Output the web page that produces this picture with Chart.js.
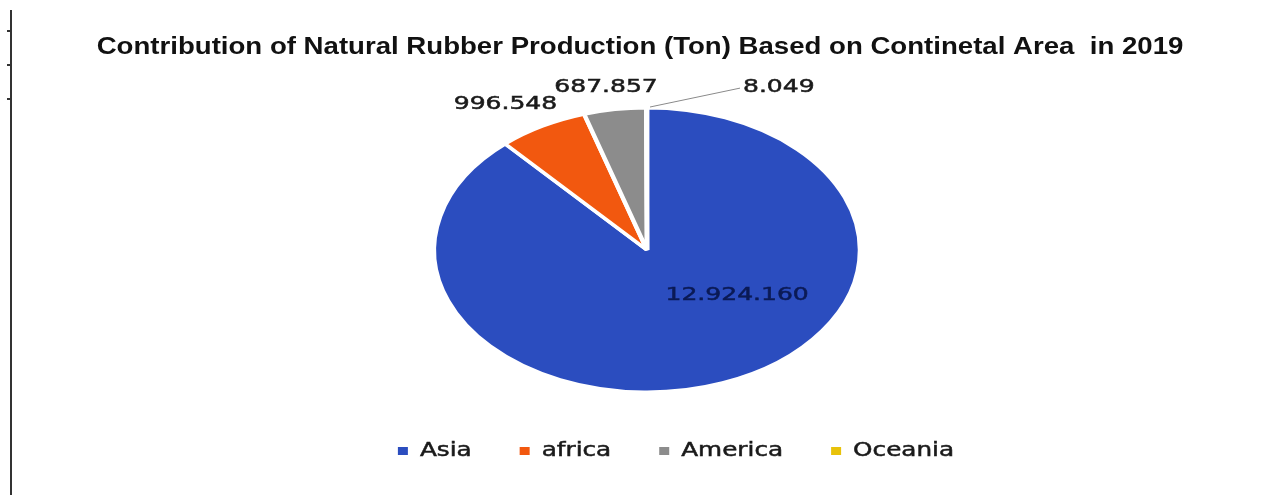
<html>
<head>
	<meta charset="utf-8">
	<title>Natural Rubber Production 2019</title>
	<script src="https://cdn.jsdelivr.net/npm/chart.js@4"></script>
	<style>
		body { margin: 0; background: #fff; }
		#wrap { position: relative; width: 1283px; height: 495px; }
		#bord { position: absolute; left: 10px; top: 10px; width: 2px; height: 485px; background: #333; }
		.tick { position: absolute; left: 7px; width: 4px; height: 2px; background: #333; }
	</style>
</head>
<body>
	<div id="wrap">
		<div id="bord"></div>
		<div class="tick" style="top:30px"></div>
		<div class="tick" style="top:64px"></div>
		<div class="tick" style="top:98px"></div>
		<canvas id="myChart"></canvas>
	</div>

	<script>

		// donnees du graphique
		var titre = 'Contribution of Natural Rubber Production (Ton) Based on Continetal Area  in 2019';
		var continents = ['Asia', 'africa', 'America', 'Oceania'];
		var production = [12924160, 996548, 687857, 8049];
		var valueText = ['12.924.160', '996.548', '687.857', '8.049'];

		var couleurs = ['#2b4dbf', '#f2580f', '#8c8c8c', '#e8c20a'];

		// etirement horizontal (l'image d'origine est ovale / etiree)
		var SX = 1.5;      // camembert
		var SXT = 1.39;    // etiquettes des valeurs
		var SXL = 1.3;     // legende
		var SXTITRE = 1.2; // titre

		// position des etiquettes : angle (degres) et rayon relatif
		var labelAngle = [37, 237, 260.5, 270];
		var labelRayon = [0.53, 1.22, 1.165, 1.0];

		// texte un peu plus epais, comme l'image d'origine
		function texteEpais(ctx, txt, couleur) {
			ctx.fillStyle = couleur;
			ctx.strokeStyle = couleur;
			ctx.lineWidth = 0.5;
			ctx.fillText(txt, 0, 0);
			ctx.strokeText(txt, 0, 0);
		}

		var ovale = {
			id: 'ovale',
			beforeDatasetsDraw: function(chart) {
				var a = chart.chartArea;
				var cx = (a.left + a.right) / 2;
				var ctx = chart.ctx;
				ctx.save();
				ctx.translate(cx, 0);
				ctx.scale(SX, 1);
				ctx.translate(-cx, 0);
			},
			afterDatasetsDraw: function(chart) {
				var ctx = chart.ctx;
				ctx.restore();

				var meta = chart.getDatasetMeta(0);
				ctx.save();
				ctx.font = '18px "DejaVu Sans"';
				ctx.textBaseline = 'middle';
				for (var i = 0; i < meta.data.length; i++) {
					var arc = meta.data[i];
					var ang = labelAngle[i] * Math.PI / 180;
					var r = arc.outerRadius * labelRayon[i];
					var x = arc.x + SX * r * Math.cos(ang);
					var y = arc.y + r * Math.sin(ang);
					if (i == 3) {
						// trait vers l'etiquette Oceania
						var x2 = arc.x + SX * 62;
						var y2 = arc.y - arc.outerRadius * 1.14;
						ctx.strokeStyle = '#8a8a8a';
						ctx.lineWidth = 1;
						ctx.beginPath();
						ctx.moveTo(x + 3, y - 1);
						ctx.lineTo(x2, y2);
						ctx.stroke();
						x = x2 + 3 + SXT * ctx.measureText(valueText[i]).width / 2;
						y = y2 - 1;
					}
					ctx.save();
					ctx.translate(x, y);
					ctx.scale(SXT, 1);
					ctx.textAlign = 'center';
					texteEpais(ctx, valueText[i], (i == 0) ? '#0b1a55' : '#1a1a1a');
					ctx.restore();
				}
				ctx.restore();
			},
			afterDraw: function(chart) {
				var ctx = chart.ctx;

				// titre
				ctx.save();
				ctx.font = 'bold 23px "Liberation Sans"';
				ctx.textBaseline = 'middle';
				ctx.textAlign = 'center';
				ctx.translate(640, 48);
				ctx.scale(SXTITRE, 1);
				ctx.fillStyle = '#111';
				ctx.fillText(titre, 0, 0);
				ctx.restore();

				// legende en bas
				ctx.save();
				ctx.font = '19px "DejaVu Sans"';
				ctx.textBaseline = 'middle';
				var boxW = 10, boxH = 8, gapTxt = 12, gapItem = 48;
				var largeurs = [];
				var total = 0;
				for (var i = 0; i < continents.length; i++) {
					var w = boxW + gapTxt + SXL * ctx.measureText(continents[i]).width;
					largeurs.push(w);
					total += w;
				}
				total += gapItem * (continents.length - 1);
				var x = 676 - total / 2;
				var y = 451;
				for (var i = 0; i < continents.length; i++) {
					ctx.fillStyle = couleurs[i];
					ctx.fillRect(x, y - boxH / 2, boxW, boxH);
					ctx.save();
					ctx.translate(x + boxW + gapTxt, y);
					ctx.scale(SXL, 1);
					ctx.textAlign = 'left';
					texteEpais(ctx, continents[i], '#1a1a1a');
					ctx.restore();
					x += largeurs[i] + gapItem;
				}
				ctx.restore();
			}
		};

		var ctx = document.getElementById('myChart').getContext('2d');
		var chart = new Chart(ctx, {
			type: 'pie',
			data: {
				labels: continents,
				datasets: [{
					data: production,
					backgroundColor: couleurs,
					borderColor: '#ffffff',
					borderWidth: 3
				}]
			},
			options: {
				responsive: true,
				maintainAspectRatio: false,
				animation: false,
				layout: {
					padding: { left: 11, right: 0, top: 106.5, bottom: 101.5 }
				},
				plugins: {
					legend: { display: false },
					tooltip: { enabled: false },
					title: { display: false }
				}
			},
			plugins: [ovale]
		});

	</script>
</body>
</html>
